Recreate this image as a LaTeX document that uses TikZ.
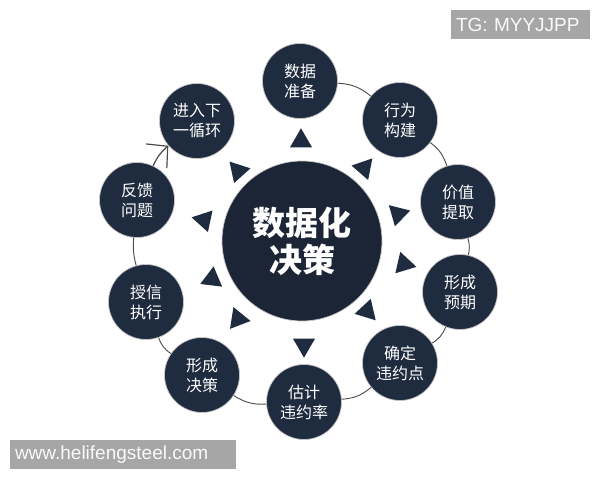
\documentclass[tikz,border=0pt]{standalone}
\usepackage{fontspec}
\setmainfont{Liberation Sans}
\newfontfamily\cjk{Noto Sans CJK SC}
\usetikzlibrary{arrows.meta,calc}
\definecolor{navy}{HTML}{1F2B3F}
\definecolor{navyc}{HTML}{1C2536}
\definecolor{ringc}{HTML}{4A4A4A}
\definecolor{wmgray}{HTML}{A6A6A6}
\begin{document}
\begin{tikzpicture}[x=1pt,y=1pt,
  stage/.style={circle,fill=navy,draw=gray!45,line width=0.7pt,minimum size=75pt,inner sep=0pt,
    text=white,font=\cjk\fontsize{16}{20}\selectfont,align=center},
  hub/.style={circle,fill=navyc,draw=gray!45,line width=0.7pt,minimum size=160pt,inner sep=0pt,
    text=white,font=\cjk\bfseries\fontsize{33}{37}\selectfont,align=center},
  ring/.style={draw=ringc,line width=0.9pt},
  wm/.style={fill=wmgray,text=white!96!gray,font=\fontsize{19}{19}\selectfont,inner ysep=0pt,inner xsep=5pt,align=left},
  pointer/.style={fill=navy}]
\useasboundingbox (0,0) rectangle (600,480);
\fill[white] (0,0) rectangle (600,480);

% hub
\node[hub] (hub) at (302,239) {数据化\\决策};

% stages (clockwise)
\node[stage] (sj) at (300,399) {数据\\准备};
\node[stage] (xw) at (400,360) {行为\\构建};
\node[stage] (jz) at (458,278) {价值\\提取};
\node[stage] (yq) at (460,188) {形成\\预期};
\node[stage] (wy) at (400,117) {确定\\违约点};
\node[stage] (gj) at (304,78)  {估计\\违约率};
\node[stage] (jc) at (202,105) {形成\\决策};
\node[stage] (sx) at (146,178) {授信\\执行};
\node[stage] (fk) at (137,280) {反馈\\问题};
\node[stage] (jr) at (197,359) {进入下\\一循环};

% ring connectors
\draw[ring] (sj) to[bend left=18] (xw);
\draw[ring] (xw) to[bend left=18] (jz);
\draw[ring] (jz) to[bend left=14] (yq);
\draw[ring] (yq) to[bend left=18] (wy);
\draw[ring] (wy) to[bend left=18] (gj);
\draw[ring] (gj) to[bend left=18] (jc);
\draw[ring] (jc) to[bend left=18] (sx);
\draw[ring] (sx) to[bend left=10] (fk);
\draw[ring,line width=1.2pt,-{Straight Barb[length=15pt,width=32pt]}] (fk) to[bend left=12] (jr);

% outward pointers
\foreach \x/\y/\a in {301/339/90, 364/312/49, 398/266/16, 404/216/-13, 367/169/-47,
                      304/135/-90, 238/161/231, 212/201/203, 204/260/168, 238/309/132}
  \fill[pointer] ($(\x,\y)+(\a:12.7)$) -- ($(\x,\y)+(\a+120:12.7)$) -- ($(\x,\y)+(\a+240:12.7)$) -- cycle;

% watermark labels
\node[wm,text width=129pt,minimum height=29pt] (tg) at (520.5,455.5) {TG: MYYJJPP};
\node[wm,text width=216pt,minimum height=29pt] (www) at (123,25.5) {www.helifengsteel.com};
\end{tikzpicture}
\end{document}
